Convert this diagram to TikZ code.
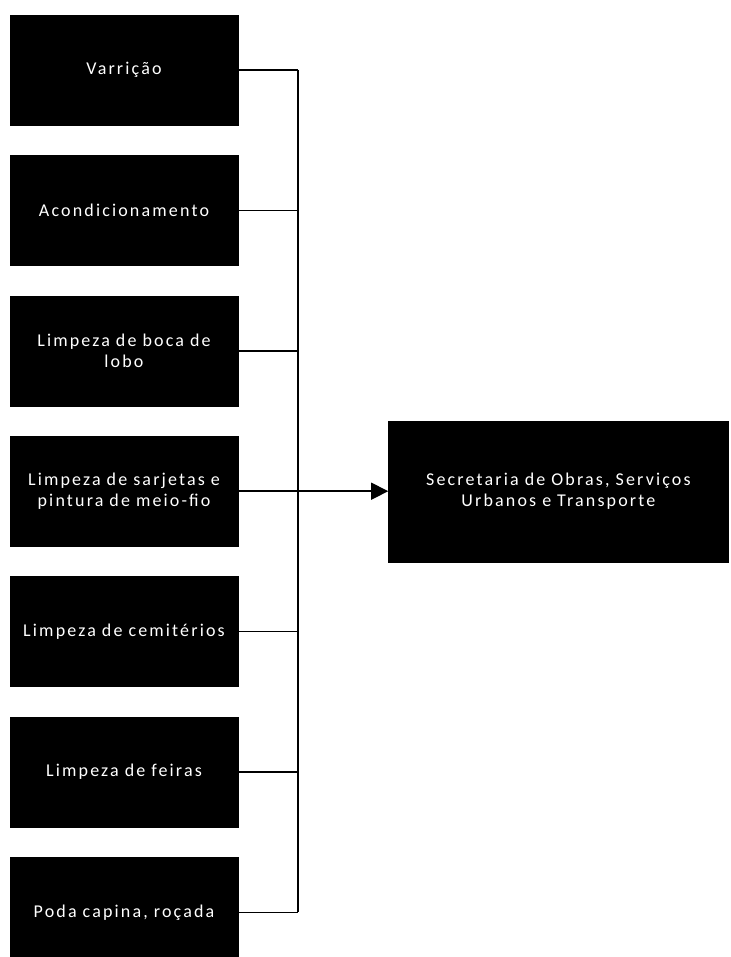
\documentclass[tikz,border=0pt]{standalone}
\usepackage{fontspec}
\setmainfont{Carlito}[LetterSpace=12,WordSpace=0.7]
\usetikzlibrary{positioning,arrows.meta}

\tikzset{
  servico/.style={draw=black, fill=black, text=white, minimum width=228pt,
    minimum height=110pt, text width=220pt, align=center, inner sep=0pt,
    font=\fontsize{18}{21}\selectfont},
  orgao/.style={servico, minimum width=340pt, minimum height=141pt, text width=330pt},
  ligacao/.style={line width=1.5pt},
}

\begin{document}
\begin{tikzpicture}
  \useasboundingbox (0,0) rectangle (730pt,-957pt);

  \node[servico] (s1) at (124pt,-70pt) {Varrição};
  \node[servico, below=30pt of s1] (s2) {Acondicionamento};
  \node[servico, below=30pt of s2] (s3) {Limpeza de boca de\\lobo};
  \node[servico, below=30pt of s3] (s4) {Limpeza de sarjetas e\\pintura de meio-fio};
  \node[servico, below=30pt of s4] (s5) {Limpeza de cemitérios};
  \node[servico, below=30pt of s5] (s6) {Limpeza de feiras};
  \node[servico, below=30pt of s6] (s7) {Poda capina, roçada};

  \node[orgao, right=150pt of s4] (sec) {Secretaria de Obras, Serviços\\Urbanos e Transporte};

  \coordinate (bus) at (298pt,0);

  \draw[ligacao] (bus |- s1) -- (bus |- s7);
  \foreach \i in {1,2,3,5,6,7}
    \draw[ligacao] (s\i.east) -- (bus |- s\i);
  \draw[ligacao, -{Triangle[length=17pt,width=17pt]}] (s4) -- (sec);
\end{tikzpicture}
\end{document}
